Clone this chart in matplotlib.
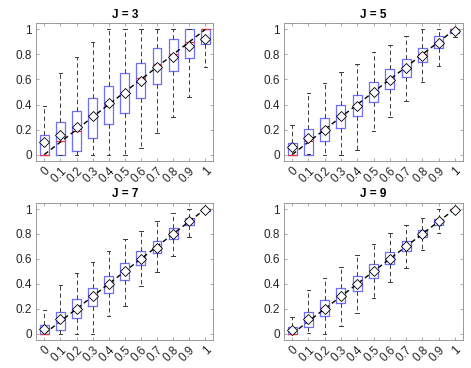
import matplotlib

matplotlib.use("Agg")
import matplotlib.pyplot as plt
import numpy as np

# true values on the x axis (one box per value)
true_vals = [0, 0.1, 0.2, 0.3, 0.4, 0.5, 0.6, 0.7, 0.8, 0.9, 1.0]
tick_labels = ["0", "0.1", "0.2", "0.3", "0.4", "0.5", "0.6", "0.7", "0.8", "0.9", "1"]
panel_titles = ["J = 3", "J = 5", "J = 7", "J = 9"]

# J = 3
j3_lo = [0, 0, 0, 0, 0, 0, 0.05, 0.17, 0.30, 0.46, 0.70]
j3_q1 = [0, 0, 0.027, 0.135, 0.245, 0.33, 0.455, 0.565, 0.665, 0.775, 0.88]
j3_med = [0, 0.11, 0.19, 0.305, 0.40, 0.495, 0.61, 0.72, 0.80, 0.90, 1.0]
j3_q3 = [0.16, 0.26, 0.35, 0.45, 0.55, 0.655, 0.735, 0.855, 0.92, 1.0, 1.0]
j3_hi = [0.39, 0.65, 0.78, 0.90, 1.0, 1.0, 1.0, 1.0, 1.0, 1.0, 1.0]
j3_mean = [0.10, 0.16, 0.22, 0.31, 0.41, 0.49, 0.59, 0.70, 0.78, 0.865, 0.92]

# J = 5
j5_lo = [0, 0.005, 0, 0, 0.04, 0.185, 0.30, 0.43, 0.58, 0.71, 0.94]
j5_q1 = [0, 0, 0.112, 0.214, 0.305, 0.42, 0.52, 0.62, 0.74, 0.85, 0.975]
j5_med = [0, 0.107, 0.203, 0.305, 0.40, 0.50, 0.60, 0.70, 0.80, 0.90, 1.0]
j5_q3 = [0.095, 0.205, 0.295, 0.40, 0.48, 0.58, 0.68, 0.76, 0.855, 0.945, 1.0]
j5_hi = [0.235, 0.495, 0.57, 0.66, 0.72, 0.82, 0.875, 0.95, 1.0, 1.0, 1.0]
j5_mean = [0.06, 0.13, 0.20, 0.305, 0.39, 0.50, 0.595, 0.69, 0.79, 0.89, 0.985]

# J = 7
j7_lo = [0, 0, 0, 0, 0.14, 0.22, 0.38, 0.495, 0.624, 0.775, 0.975]
j7_q1 = [0, 0.027, 0.125, 0.22, 0.33, 0.43, 0.55, 0.645, 0.758, 0.868, 0.985]
j7_med = [0, 0.108, 0.20, 0.30, 0.40, 0.50, 0.60, 0.70, 0.805, 0.90, 1.0]
j7_q3 = [0.07, 0.175, 0.277, 0.37, 0.46, 0.565, 0.66, 0.745, 0.847, 0.927, 1.0]
j7_hi = [0.19, 0.39, 0.485, 0.575, 0.66, 0.76, 0.82, 0.90, 0.968, 1.0, 1.0]
j7_mean = [0.04, 0.12, 0.20, 0.30, 0.40, 0.50, 0.60, 0.69, 0.80, 0.90, 0.99]

# J = 9
j9_lo = [0, 0.005, 0, 0.06, 0.166, 0.29, 0.417, 0.527, 0.674, 0.807, 0.985]
j9_q1 = [0, 0.053, 0.144, 0.246, 0.345, 0.447, 0.559, 0.66, 0.773, 0.874, 0.99]
j9_med = [0, 0.107, 0.203, 0.305, 0.40, 0.50, 0.604, 0.70, 0.80, 0.90, 1.0]
j9_q3 = [0.053, 0.175, 0.267, 0.364, 0.46, 0.556, 0.652, 0.746, 0.834, 0.922, 1.0]
j9_hi = [0.135, 0.353, 0.445, 0.535, 0.634, 0.72, 0.807, 0.874, 0.928, 1.0, 1.0]
j9_mean = [0.03, 0.12, 0.20, 0.305, 0.40, 0.50, 0.60, 0.70, 0.80, 0.90, 0.995]

panels = [
    (j3_lo, j3_q1, j3_med, j3_q3, j3_hi, j3_mean),
    (j5_lo, j5_q1, j5_med, j5_q3, j5_hi, j5_mean),
    (j7_lo, j7_q1, j7_med, j7_q3, j7_hi, j7_mean),
    (j9_lo, j9_q1, j9_med, j9_q3, j9_hi, j9_mean),
]

plt.rcParams["font.family"] = ["Liberation Sans", "DejaVu Sans"]
fig = plt.figure(figsize=(4.71, 3.68), dpi=100)

rects = [
    (0.077, 0.563, 0.376, 0.374),
    (0.603, 0.563, 0.380, 0.374),
    (0.077, 0.076, 0.376, 0.373),
    (0.603, 0.076, 0.380, 0.373),
]

positions = np.arange(1, len(true_vals) + 1)
axis_grey = "#8c8c8c"
text_grey = "#262626"

for rect, title, (lo, q1, med, q3, hi, mean) in zip(rects, panel_titles, panels):
    ax = fig.add_axes(rect)
    stats = [
        {"whislo": a, "q1": b, "med": c, "q3": d, "whishi": e, "fliers": []}
        for a, b, c, d, e in zip(lo, q1, med, q3, hi)
    ]
    ax.bxp(
        stats, positions=positions, widths=0.55, showfliers=False,
        boxprops=dict(color="#6f6fff", linewidth=0.9),
        medianprops=dict(color="#ff3030", linewidth=0.9),
        whiskerprops=dict(color="#3a3a3a", linestyle=(0, (4.5, 3)), linewidth=0.7),
        capprops=dict(color="#3a3a3a", linewidth=0.7),
        capwidths=0.22,
    )
    # identity line
    ax.plot(positions, true_vals, color="black", linestyle=(0, (3.5, 2.5)), linewidth=1.0, zorder=4)
    # means
    ax.plot(positions, mean, linestyle="none", marker="D", markersize=4.6,
            markerfacecolor="white", markeredgecolor="black", markeredgewidth=0.6, zorder=5)

    ax.set_xlim(0.5, len(true_vals) + 0.5)
    ax.set_ylim(-0.05, 1.05)
    ax.set_xticks(positions)
    ax.set_xticklabels(tick_labels, rotation=45, ha="right", va="top", rotation_mode="anchor")
    ax.set_yticks([0, 0.2, 0.4, 0.6, 0.8, 1.0])
    ax.set_yticklabels(["0", "0.2", "0.4", "0.6", "0.8", "1"])
    ax.tick_params(direction="in", top=True, right=True, length=2.5, width=0.5,
                   colors=axis_grey, labelcolor=text_grey, labelsize=8.5, pad=3)
    for s in ax.spines.values():
        s.set_color(axis_grey)
        s.set_linewidth(0.6)
    ax.set_title(title, fontsize=8.5, fontweight="bold", color="black", pad=4)

fig.savefig("out.png", dpi=100)
